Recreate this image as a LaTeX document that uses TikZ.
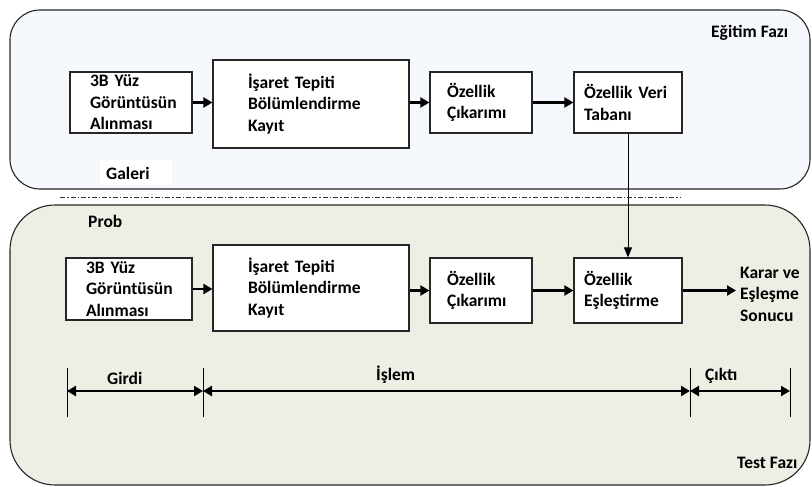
\documentclass[tikz,border=0pt]{standalone}
\usepackage{fontspec}
\setmainfont{Carlito}
\usetikzlibrary{arrows.meta}
\definecolor{topfill}{HTML}{F5F8FD}
\definecolor{botfill}{HTML}{EDEFE5}
\begin{document}
\begin{tikzpicture}[x=1pt,y=-1pt,
  font=\fontsize{17.5}{21.5}\selectfont\bfseries,
  panel/.style={draw=black!85, line width=1.1pt},
  box/.style={draw=black!85, fill=white, line width=1.2pt, align=left, inner ysep=0pt},
  lbl/.style={inner sep=0pt, anchor=west},
  arr/.style={-{Triangle[length=9pt,width=10pt]}, line width=2.2pt},
  thinarr/.style={-{Triangle[length=10pt,width=8pt]}, line width=1pt},
  dimarr/.style={{Triangle[length=9pt,width=10pt]}-{Triangle[length=9pt,width=10pt]}, line width=2.2pt},
  tick/.style={line width=0.7pt}
]
\useasboundingbox (0,0) rectangle (812,487);
% panels
\draw[panel, fill=topfill, rounded corners=30pt] (10,10) rectangle (810,189);
\draw[panel, fill=botfill, rounded corners=45pt] (10,205) rectangle (810,485);
% separator
\draw[black!80, line width=1pt, dash pattern=on 5pt off 2pt on 1.5pt off 2pt] (60,197) -- (680,197);
% labels
\node[lbl] (egitim) at (711,33) {Eğitim Fazı};
\node[fill=white, minimum width=72pt, minimum height=25pt, inner sep=0pt] (galeriBg) at (136,172) {};
\node[lbl] (galeri) at (106,173) {Galeri};
\node[lbl] (prob) at (88,221) {Prob};
\node[lbl] (test) at (737,463) {Test Fazı};
% top row
\node[box, text width=82pt, inner xsep=20pt, minimum height=61pt] (t1) at (131,102.5) {3B Yüz\\Görüntüsün\\Alınması};
\node[box, text width=126pt, inner xsep=35pt, minimum height=88pt] (t2) at (311,104) {İşaret Tepiti\\Bölümlendirme\\Kayıt};
\node[box, text width=68pt, inner xsep=17pt, minimum height=61pt] (t3) at (481,102.5) {Özellik\\Çıkarımı};
\node[box, text width=88pt, inner xsep=10pt, minimum height=61pt] (t4) at (628,102.5) {Özellik Veri\\Tabanı};
% bottom row
\node[box, text width=86pt, inner xsep=20pt, minimum height=62pt] (b1) at (129,289) {3B Yüz\\Görüntüsün\\Alınması};
\node[box, text width=126pt, inner xsep=35pt, minimum height=86pt] (b2) at (311,288) {İşaret Tepiti\\Bölümlendirme\\Kayıt};
\node[box, text width=68pt, inner xsep=17pt, minimum height=65pt] (b3) at (481,290.5) {Özellik\\Çıkarımı};
\node[box, text width=88pt, inner xsep=10pt, minimum height=65pt] (b4) at (628,290.5) {Özellik\\Eşleştirme};
\node[lbl, align=left] (out) at (740,294) {Karar ve\\Eşleşme\\Sonucu};
% arrows
\draw[arr] (t1.east) -- (t2.west |- t1.east);
\draw[arr] (t2.east |- t3.west) -- (t3.west);
\draw[arr] (t3.east) -- (t4.west);
\draw[arr] (b1.east) -- (b2.west |- b1.east);
\draw[arr] (b2.east |- b3.west) -- (b3.west);
\draw[arr] (b3.east) -- (b4.west);
\draw[arr, shorten >=4pt] (b4.east) -- (b4.east -| out.west);
\draw[thinarr] (t4.south) -- (b4.north);
% dimension
\coordinate (d1) at (67,391);
\coordinate (d2) at (203,391);
\coordinate (d3) at (690,391);
\coordinate (d4) at (790,391);
\foreach \c in {d1,d2,d3,d4} \draw[tick] ([yshift=-26pt]\c) -- ([yshift=23pt]\c);
\draw[dimarr] (d1) -- (d2);
\draw[dimarr] (d2) -- (d3);
\draw[dimarr] (d3) -- (d4);
\node[lbl] (girdi) at (107,378) {Girdi};
\node[lbl] (islem) at (376,375) {İşlem};
\node[lbl] (cikti) at (705,376) {Çıktı};
\end{tikzpicture}
\end{document}
